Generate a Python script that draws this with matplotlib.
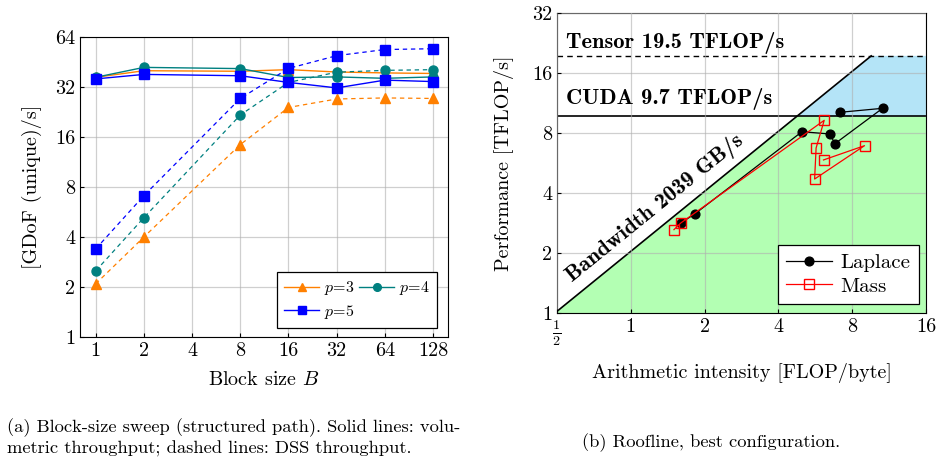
import numpy as np
import matplotlib
matplotlib.use('Agg')
import matplotlib.pyplot as plt

plt.rcParams['font.family'] = 'serif'
plt.rcParams['font.serif'] = ['cmr10']
plt.rcParams['mathtext.fontset'] = 'cm'
plt.rcParams['axes.formatter.use_mathtext'] = True

# --- (a) block-size sweep ---
block_sizes = [1, 2, 8, 16, 32, 64, 128]
vol_p3 = [36.6, 40.1, 39.8, 40.7, 39.4, 38.9, 38.6]
vol_p4 = [36.6, 42.0, 41.3, 36.5, 36.8, 36.1, 36.8]
vol_p5 = [35.8, 38.1, 37.4, 34.1, 31.6, 35.2, 34.5]
dss_p3 = [2.09, 4.0, 14.4, 24.1, 27.1, 27.5, 27.3]
dss_p4 = [2.50, 5.23, 21.7, 34.1, 39.3, 40.3, 40.7]
dss_p5 = [3.39, 7.1, 27.3, 41.4, 49.4, 53.8, 54.4]
x_ticks_a = [1, 2, 4, 8, 16, 32, 64, 128]
y_ticks_a = [1, 2, 4, 8, 16, 32, 64]

# --- (b) roofline ---
bandwidth = 2.039   # TFLOP/s per FLOP/byte (2039 GB/s)
cuda_peak = 9.7
tensor_peak = 19.5
laplace_ai = [1.60, 1.83, 4.99, 6.49, 6.80, 10.64, 7.13]
laplace_perf = [2.83, 3.15, 8.12, 7.91, 7.07, 10.64, 10.16]
mass_ai = [1.50, 1.60, 6.15, 5.70, 5.62, 8.98, 6.11]
mass_perf = [2.62, 2.83, 9.26, 6.73, 4.70, 6.91, 5.86]
x_ticks_b = [0.5, 1, 2, 4, 8, 16]
x_labels_b = [r'$\frac{1}{2}$', '1', '2', '4', '8', '16']
y_ticks_b = [1, 2, 4, 8, 16, 32]

fig = plt.figure(figsize=(9.42, 4.57), dpi=100)
W, H = 942, 457
ax1 = fig.add_axes([80 / W, 1 - 337 / H, 368 / W, 300 / H])
ax2 = fig.add_axes([557 / W, 1 - 313 / H, 369 / W, 300 / H])

fs = 14.5
grid_kw = dict(color='#b0b0b0', lw=0.9, alpha=0.6)

series = [
    ('$p$=3', '#ff8000', '^', vol_p3, dss_p3),
    ('$p$=4', '#008080', 'o', vol_p4, dss_p4),
    ('$p$=5', '#0000ff', 's', vol_p5, dss_p5),
]
handles = []
for lab, col, mk, vol, dss in series:
    h, = ax1.plot(block_sizes, vol, color=col, marker=mk, ms=6.5, lw=1.0, label=lab)
    ax1.plot(block_sizes, dss, color=col, marker=mk, ms=6.5, lw=0.9, dashes=(3.5, 3))
    handles.append(h)

ax1.set_xscale('log', base=2)
ax1.set_yscale('log', base=2)
ax1.set_xlim(2 ** -0.326, 128 * 2 ** 0.31)
ax1.set_ylim(1, 64)
ax1.set_xticks(x_ticks_a)
ax1.set_xticklabels([str(v) for v in x_ticks_a])
ax1.set_yticks(y_ticks_a)
ax1.set_yticklabels([str(v) for v in y_ticks_a])
ax1.minorticks_off()
ax1.grid(True, **grid_kw)
ax1.tick_params(labelsize=fs, direction='in', length=3)
ax1.set_xlabel('Block size $B$', fontsize=fs, labelpad=8)
ax1.set_ylabel('[GDoF (unique)/s]', fontsize=fs, labelpad=9)
leg1 = ax1.legend([handles[0], handles[2], handles[1]],
                  [series[0][0], series[2][0], series[1][0]],
                  ncol=2, loc='lower right', bbox_to_anchor=(0.97, 0.03),
                  fontsize=11.5, fancybox=False, framealpha=1, edgecolor='black',
                  borderaxespad=0, handlelength=2.2, columnspacing=0.3,
                  handletextpad=0.3, labelspacing=0.35, markerscale=0.85,
                  borderpad=0.45)
leg1.get_frame().set_linewidth(0.9)

# roofline regions
ai_cuda = cuda_peak / bandwidth
ai_tensor = tensor_peak / bandwidth
ax2.fill([0.5, 0.5, ai_cuda, 16, 16], [1, bandwidth * 0.5, cuda_peak, cuda_peak, 1],
         color='#b3ffb3', lw=0, zorder=0)
ax2.fill([ai_cuda, ai_tensor, 16, 16], [cuda_peak, tensor_peak, tensor_peak, cuda_peak],
         color='#b4e4f7', lw=0, zorder=0)
ax2.plot([0.5, ai_tensor], [bandwidth * 0.5, tensor_peak], color='black', lw=1.2, zorder=2)
ax2.axhline(cuda_peak, color='black', lw=1.2, zorder=2)
ax2.axhline(tensor_peak, color='black', lw=1.0, dashes=(4, 3), zorder=2)

ax2.plot(laplace_ai, laplace_perf, color='black', marker='o', ms=6.3, lw=0.9,
         label='Laplace', zorder=4)
ax2.plot(mass_ai, mass_perf, color='red', marker='s', ms=6.5, mfc='none', lw=0.9,
         label='Mass', zorder=5)

ax2.set_xscale('log', base=2)
ax2.set_yscale('log', base=2)
ax2.set_xlim(0.5, 16)
ax2.set_ylim(1, 32)
ax2.set_xticks(x_ticks_b)
ax2.set_xticklabels(x_labels_b)
ax2.set_yticks(y_ticks_b)
ax2.set_yticklabels([str(v) for v in y_ticks_b])
ax2.minorticks_off()
ax2.grid(True, zorder=1, **grid_kw)
ax2.set_axisbelow(False)
ax2.tick_params(labelsize=fs, direction='in', length=3)
ax2.set_xlabel('Arithmetic intensity [FLOP/byte]', fontsize=fs, labelpad=11)
ax2.set_ylabel('Performance [TFLOP/s]', fontsize=fs, labelpad=13)

bold = dict(family='cmb10', fontsize=16.2, color='black', zorder=6)
ax2.text(0.025, 0.9, 'Tensor 19.5 TFLOP/s', transform=ax2.transAxes,
         ha='left', va='center', **bold)
ax2.text(0.025, 0.715, 'CUDA 9.7 TFLOP/s', transform=ax2.transAxes,
         ha='left', va='center', **bold)
ax2.text(0.267, 0.35, 'Bandwidth 2039 GB/s', transform=ax2.transAxes,
         ha='center', va='center', rotation=39.1, **bold)

leg2 = ax2.legend(loc='lower right', bbox_to_anchor=(0.98, 0.03), fontsize=15,
                  fancybox=False, framealpha=1, edgecolor='black', borderaxespad=0,
                  handlelength=2.2, handletextpad=0.4, labelspacing=0.25,
                  borderpad=0.4)
leg2.get_frame().set_linewidth(0.9)
leg2.set_zorder(10)

cap = dict(fontsize=13.3, va='center')
fig.text(7 / W, 1 - 428 / H, '(a) Block-size sweep (structured path). Solid lines: volu-',
         ha='left', **cap)
fig.text(7 / W, 1 - 449 / H, 'metric throughput; dashed lines: DSS throughput.',
         ha='left', **cap)
fig.text(711 / W, 1 - 443 / H, '(b) Roofline, best configuration.', ha='center', **cap)

fig.savefig('out.png', dpi=100)
